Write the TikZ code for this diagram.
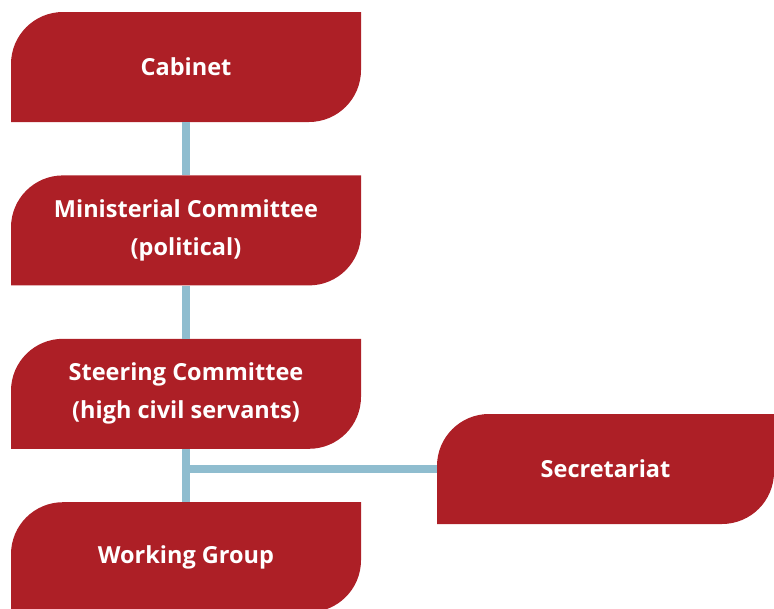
\documentclass[tikz,border=0pt]{standalone}
\usepackage{fontspec}
\setmainfont{Open Sans}
\usepackage{tikz}
\usetikzlibrary{positioning}

\definecolor{boxred}{HTML}{AD1F26}
\definecolor{linkblue}{HTML}{8FBDCF}

\begin{document}
\begin{tikzpicture}[x=1pt, y=-1pt, node distance=53pt,
    orgbox/.style={minimum width=350pt, minimum height=110pt, align=center,
        text=white, font=\bfseries\fontsize{23.5}{38}\selectfont, inner sep=0pt,
        path picture={
            \fill[boxred] (path picture bounding box.south west)
                -- ([yshift=-52pt]path picture bounding box.north west)
                arc[start angle=180, end angle=90, radius=52pt]
                -- (path picture bounding box.north east)
                -- ([yshift=52pt]path picture bounding box.south east)
                arc[start angle=0, end angle=-90, radius=52pt]
                -- cycle;
        }},
    link/.style={draw=linkblue, line width=8pt}]
    \useasboundingbox (0,0) rectangle (774,608);
    \node[orgbox] (cab) at (186,67) {Cabinet};
    \node[orgbox] (min) [below=of cab] {Ministerial Committee\\(political)};
    \node[orgbox] (steer) [below=of min] {Steering Committee\\(high civil servants)};
    \node[orgbox] (work) [below=of steer] {Working Group};
    \node[orgbox, minimum width=337pt] (sec) at (605.5,469) {Secretariat};
    \draw[link] (cab) -- (min);
    \draw[link] (min) -- (steer);
    \draw[link] (steer) -- (work);
    \draw[link] (sec.west) -- (sec.west -| steer.south);
\end{tikzpicture}
\end{document}
